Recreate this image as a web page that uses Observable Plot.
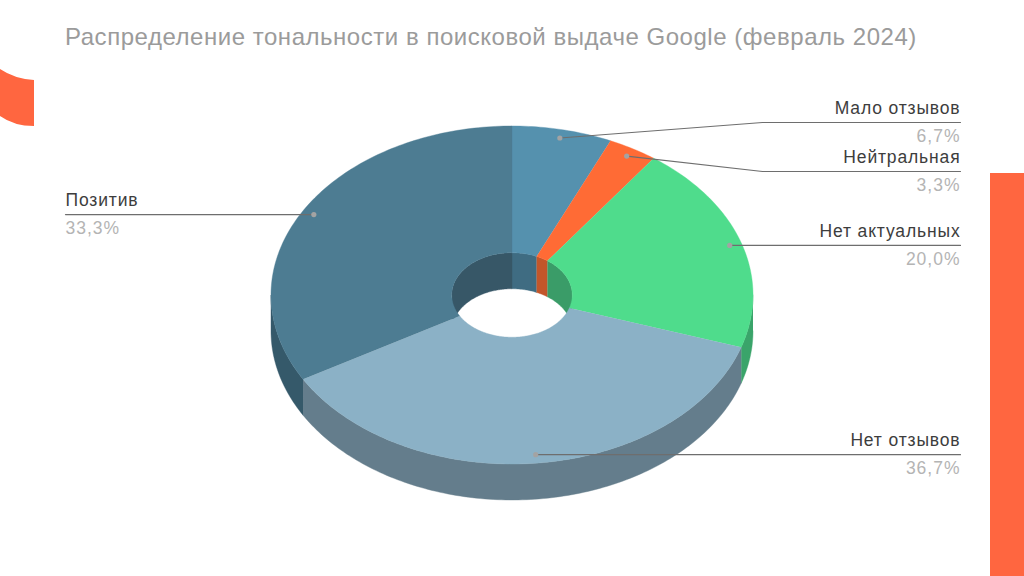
<!DOCTYPE html>
<html lang="ru">
<head>
<meta charset="utf-8">
<script src="https://cdn.jsdelivr.net/npm/d3@7"></script>
<script src="https://cdn.jsdelivr.net/npm/@observablehq/plot@0.6"></script>
<style>
  html, body { margin: 0; padding: 0; background: #fff; overflow: hidden; }
  #stage { position: relative; width: 1024px; height: 576px; overflow: hidden; }
  #title { position: absolute; left: 65px; top: 23px; white-space: nowrap; letter-spacing: 0.53px;
           font: 400 24px "Liberation Sans", Arial, sans-serif; color: #9b9b9b; z-index: 2; }
  #barRight { position: absolute; left: 990px; top: 173px; width: 34px; height: 403px; background: #ff6640; }
  #cornerShape { position: absolute; left: 0; top: 60px; width: 34px; height: 70px; background: #ff6640;
                 clip-path: path('M0 9 Q15 19 34 20 L34 66 Q14 66 0 56 Z'); }
  #chart { position: absolute; left: 0; top: 0; }
  #chart svg { display: block; }
  .name text { letter-spacing: 0.85px; }
  .pct text { letter-spacing: 1px; }
</style>
</head>
<body>
<div id="stage">
  <div id="barRight"></div>
  <div id="cornerShape"></div>
  <div id="chart"></div>
  <div id="title">Распределение тональности в поисковой выдаче Google (февраль 2024)</div>
</div>
<script>
// Data
const categories = ["Мало отзывов", "Нейтральная", "Нет актуальных", "Нет отзывов", "Позитив"];
const shares = [6.7, 3.3, 20.0, 36.7, 33.3];
const shareLabels = ["6,7%", "3,3%", "20,0%", "36,7%", "33,3%"];

// Styles
const topColors = ["#5591ae", "#ff6b35", "#4fdc8c", "#8bb1c6", "#4d7c92"];
const outerColors = ["#3f6c82", "#c2562a", "#3aa46a", "#647d8c", "#35596a"];
const innerColors = ["#3f6c82", "#c2562a", "#3a9c68", "#647d8c", "#375767"];

// Geometry, in units of the pie radius (the scales below map them to the page)
const W = 1024, H = 576;
const RX = 241, RY = 169, CX = 511.5, CY = 294.5;
const hole = 0.25;
const depth = 36 / RY;
const ux = (px) => (px - CX) / RX;
const uy = (px) => (CY - px) / RY;

const arcs = d3.pie().sort(null).value((d) => d)(shares);
const pt = (a, r, drop = 0) => ({ x: r * Math.sin(a), y: r * Math.cos(a) - drop });
function sweep(a0, a1) {
  const n = Math.max(2, Math.ceil(Math.abs(a1 - a0) / (Math.PI / 180)));
  return d3.range(n + 1).map((i) => a0 + ((a1 - a0) * i) / n);
}
const TAU = Math.PI * 2;
const clip = (a0, a1, lo, hi) => [Math.max(a0, lo), Math.min(a1, hi)];

const marks = [];
const polygon = (pts, color) =>
  marks.push(Plot.line(pts, { x: "x", y: "y", fill: color, stroke: color, strokeWidth: 0.4, curve: "linear" }));

// Inner wall: only the part of the hole facing the viewer (the back half)
arcs.forEach((d, i) => {
  [[-TAU, TAU / 4], [TAU * 3 / 4, TAU]].forEach(([lo, hi]) => {
    const [a0, a1] = clip(d.startAngle, d.endAngle, lo, hi);
    if (a1 <= a0) return;
    const s = sweep(a0, a1);
    polygon([...s.map((a) => pt(a, hole)), ...s.slice().reverse().map((a) => pt(a, hole, depth))], innerColors[i]);
  });
});
// Outer wall: the front half
arcs.forEach((d, i) => {
  const [a0, a1] = clip(d.startAngle, d.endAngle, TAU / 4, TAU * 3 / 4);
  if (a1 <= a0) return;
  const s = sweep(a0, a1);
  polygon([...s.map((a) => pt(a, 1)), ...s.slice().reverse().map((a) => pt(a, 1, depth))], outerColors[i]);
});
// Top faces
arcs.forEach((d, i) => {
  const s = sweep(d.startAngle, d.endAngle);
  polygon([...s.map((a) => pt(a, 1)), ...s.slice().reverse().map((a) => pt(a, hole))], topColors[i]);
});

// Leader lines and labels
const dotRadius = 0.95;
const labelEnds = [
  { side: 1, elbow: [ux(762), uy(122)] },
  { side: 1, elbow: [ux(762), uy(171)] },
  { side: 1, elbow: null },
  { side: 1, elbow: null },
  { side: -1, elbow: null }
];
const rightEdge = ux(960), leftEdge = ux(65);
const labels = arcs.map((d, i) => {
  const mid = (d.startAngle + d.endAngle) / 2;
  const dot = pt(mid, dotRadius);
  const e = labelEnds[i];
  const endX = e.side > 0 ? rightEdge : leftEdge;
  const yEnd = e.elbow ? e.elbow[1] : dot.y;
  const path = [dot, ...(e.elbow ? [{ x: e.elbow[0], y: yEnd }] : []), { x: endX, y: yEnd }];
  return { dot, path, endX, yEnd, side: e.side, name: categories[i], pct: shareLabels[i] };
});
labels.forEach((l) => {
  marks.push(Plot.line(l.path, { x: "x", y: "y", stroke: "#6e6e6e", strokeWidth: 1.2, curve: "linear" }));
});
marks.push(Plot.dot(labels.map((l) => l.dot), { x: "x", y: "y", r: 2.6, fill: "#a3a3a3", stroke: "none" }));
const textCommon = { x: "endX", y: "yEnd", fontFamily: "'Liberation Sans', Arial, sans-serif", fontSize: 17.5 };
const right = labels.filter((l) => l.side > 0), left = labels.filter((l) => l.side < 0);
marks.push(
  Plot.text(right, { ...textCommon, textAnchor: "end", text: "name", dy: -14, fill: "#3d3d3d", className: "name" }),
  Plot.text(right, { ...textCommon, textAnchor: "end", text: "pct", dy: 14, fill: "#b4b4b4", className: "pct" }),
  Plot.text(left, { ...textCommon, textAnchor: "start", text: "name", dy: -14, fill: "#3d3d3d", className: "name" }),
  Plot.text(left, { ...textCommon, textAnchor: "start", text: "pct", dy: 14, fill: "#b4b4b4", className: "pct" })
);

const chart = Plot.plot({
  width: W, height: H,
  margin: 0,
  style: { background: "transparent" },
  x: { axis: null, domain: [ux(0), ux(W)], range: [0, W] },
  y: { axis: null, domain: [uy(H), uy(0)], range: [H, 0] },
  marks
});
document.getElementById("chart").append(chart);
</script>
</body>
</html>
